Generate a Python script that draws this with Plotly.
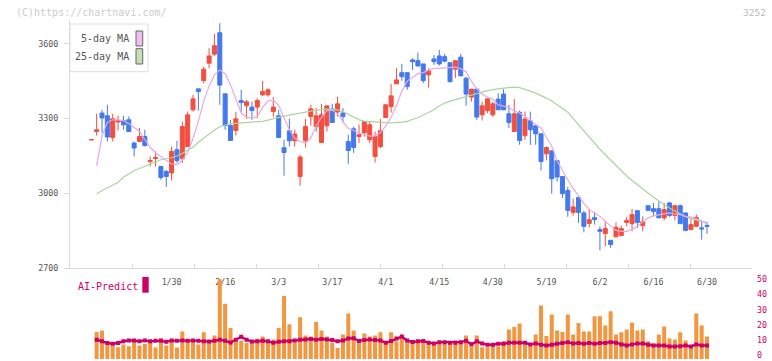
import plotly.graph_objects as go

# ---------------- data ----------------
N = 116
idx = list(range(N))

opens = [3214, 3248, 3322, 3311, 3224, 3286, 3292, 3295, 3202, 3208,
         3228, 3128, 3140, 3108, 3088, 3082, 3175, 3139, 3188, 3335,
         3419, 3452, 3522, 3558, 3644, 3399, 3272, 3252, 3372, 3351,
         3346, 3346, 3395, 3395, 3328, 3311, 3183, 3251, 3211, 3068,
         3211, 3308, 3268, 3204, 3271, 3338, 3326, 3322, 3208, 3259,
         3228, 3244, 3215, 3148, 3188, 3304, 3348, 3439, 3484, 3484,
         3535, 3532, 3519, 3475, 3539, 3551, 3548, 3524, 3498, 3546,
         3462, 3386, 3418, 3315, 3332, 3315, 3378, 3398, 3319, 3248,
         3325, 3231, 3291, 3271, 3239, 3159, 3171, 3131, 3068, 3012,
         2924, 2984, 2922, 2880, 2903, 2855, 2839, 2812, 2826, 2831,
         2884, 2879, 2931, 2871, 2951, 2939, 2939, 2902, 2962, 2912,
         2951, 2922, 2855, 2868, 2862, 2872]
highs = [3216, 3320, 3335, 3355, 3319, 3311, 3311, 3308, 3208, 3262,
         3255, 3148, 3168, 3108, 3095, 3188, 3211, 3288, 3328, 3395,
         3419, 3508, 3582, 3639, 3682, 3399, 3295, 3326, 3415, 3375,
         3368, 3382, 3451, 3422, 3386, 3335, 3215, 3300, 3255, 3155,
         3298, 3355, 3342, 3359, 3351, 3359, 3388, 3342, 3235, 3268,
         3275, 3288, 3288, 3248, 3298, 3359, 3439, 3502, 3519, 3484,
         3542, 3564, 3519, 3502, 3555, 3575, 3560, 3524, 3532, 3559,
         3466, 3418, 3418, 3368, 3379, 3368, 3402, 3418, 3355, 3378,
         3332, 3328, 3328, 3271, 3239, 3188, 3171, 3131, 3068, 3026,
         2979, 2984, 2931, 2938, 2926, 2868, 2888, 2812, 2884, 2871,
         2906, 2938, 2931, 2908, 2951, 2962, 2968, 2962, 2966, 2951,
         2955, 2922, 2906, 2915, 2892, 2886]
lows = [3214, 3232, 3243, 3208, 3208, 3252, 3255, 3248, 3148, 3208,
        3188, 3108, 3108, 3055, 3026, 3052, 3122, 3122, 3188, 3328,
        3332, 3442, 3502, 3551, 3355, 3255, 3212, 3232, 3328, 3298,
        3295, 3302, 3391, 3388, 3306, 3224, 3071, 3188, 3188, 3031,
        3184, 3271, 3248, 3204, 3248, 3284, 3308, 3284, 3119, 3162,
        3202, 3228, 3202, 3124, 3182, 3304, 3324, 3439, 3452, 3415,
        3495, 3508, 3442, 3424, 3515, 3512, 3525, 3444, 3462, 3471,
        3352, 3368, 3295, 3292, 3322, 3306, 3335, 3335, 3262, 3248,
        3195, 3215, 3195, 3195, 3092, 3132, 2999, 3048, 2982, 2906,
        2911, 2882, 2844, 2864, 2875, 2772, 2788, 2782, 2826, 2828,
        2868, 2848, 2862, 2848, 2931, 2908, 2902, 2892, 2906, 2892,
        2879, 2848, 2855, 2868, 2815, 2839]
closes = [3216, 3255, 3302, 3226, 3299, 3292, 3275, 3248, 3182, 3228,
          3192, 3132, 3144, 3064, 3068, 3168, 3132, 3268, 3315, 3379,
          3408, 3498, 3551, 3592, 3434, 3272, 3212, 3299, 3364, 3367,
          3332, 3372, 3408, 3415, 3346, 3224, 3164, 3211, 3238, 3146,
          3268, 3339, 3311, 3315, 3351, 3284, 3359, 3308, 3172, 3184,
          3235, 3288, 3275, 3228, 3251, 3355, 3391, 3455, 3468, 3428,
          3528, 3511, 3452, 3491, 3528, 3519, 3530, 3448, 3532, 3471,
          3398, 3418, 3306, 3351, 3379, 3359, 3335, 3335, 3284, 3319,
          3212, 3298, 3255, 3239, 3128, 3184, 3059, 3066, 2999, 2932,
          2946, 2924, 2868, 2895, 2895, 2848, 2859, 2795, 2864, 2859,
          2892, 2915, 2884, 2886, 2932, 2928, 2902, 2935, 2912, 2951,
          2879, 2852, 2875, 2904, 2858, 2868]

ma5 = [None, 3110, 3230, 3285, 3295, 3295, 3292, 3280, 3265, 3248,
       3215, 3185, 3162, 3148, 3135, 3118, 3115, 3133, 3165, 3220,
       3290, 3370, 3430, 3475, 3495, 3480, 3435, 3375, 3322, 3305,
       3302, 3308, 3345, 3370, 3375, 3352, 3305, 3255, 3222, 3208,
       3202, 3222, 3270, 3305, 3332, 3334, 3318, 3290, 3260, 3252,
       3242, 3236, 3230, 3230, 3245, 3270, 3305, 3352, 3410, 3450,
       3465, 3480, 3484, 3495, 3500, 3502, 3505, 3506, 3506, 3500,
       3488, 3450, 3418, 3398, 3385, 3378, 3355, 3350, 3345, 3330,
       3322, 3308, 3295, 3275, 3262, 3225, 3190, 3130, 3090, 3055,
       3020, 2988, 2960, 2935, 2920, 2908, 2888, 2868, 2852, 2848,
       2848, 2855, 2868, 2885, 2902, 2910, 2915, 2918, 2922, 2918,
       2915, 2908, 2905, 2898, 2888, 2879]

ma25 = [None, 2998, 3012, 3022, 3032, 3045, 3065, 3080, 3092, 3100,
        3110, 3118, 3126, 3135, 3140, 3143, 3150, 3160, 3175, 3185,
        3205, 3222, 3240, 3254, 3267, 3275, 3280, 3281, 3282, 3283,
        3284, 3286, 3289, 3294, 3300, 3306, 3310, 3314, 3317, 3320,
        3326, 3330, 3335, 3337, 3338, 3338, 3335, 3328, 3318, 3305,
        3295, 3290, 3288, 3286, 3284, 3284, 3283, 3284, 3286, 3289,
        3295, 3304, 3314, 3325, 3335, 3350, 3362, 3370, 3376, 3382,
        3391, 3397, 3403, 3408, 3412, 3416, 3420, 3422, 3424, 3426,
        3424, 3418, 3410, 3402, 3393, 3382, 3370, 3356, 3340, 3325,
        3300, 3275, 3248, 3225, 3200, 3177, 3155, 3133, 3110, 3090,
        3070, 3052, 3035, 3018, 3000, 2985, 2970, 2955, 2942, 2930,
        2918, 2907, 2899, 2892, 2887, 2884]

volume = [None, 16.8, 17.8, 9.5, 8.4, 7.4, 9.0, 8.0, 11.6, 8.4,
          9.3, 11.0, 7.2, 13.0, 8.4, 11.0, 7.2, 17.2, 11.0, 12.2,
          9.0, 16.6, 11.0, 14.7, 49.7, 34.5, 19.3, 11.0, 11.6, 10.0,
          10.5, 12.6, 14.0, 10.5, 12.2, 19.3, 39.3, 21.6, 10.5, 26.1,
          14.7, 14.0, 23.0, 17.8, 14.0, 10.1, 6.8, 15.3, 28.4, 17.8,
          11.0, 15.9, 14.0, 14.7, 16.6, 9.5, 16.6, 11.0, 14.0, 11.0,
          10.5, 11.6, 10.1, 11.0, 8.9, 10.1, 10.1, 10.5, 11.6, 11.0,
          14.7, 8.0, 14.7, 7.4, 7.4, 8.4, 8.0, 11.0, 18.4, 19.9,
          22.2, 8.9, 8.0, 15.3, 33.4, 14.3, 27.8, 17.8, 16.8, 27.8,
          15.3, 22.4, 17.2, 17.2, 26.6, 26.6, 20.9, 29.7, 15.3, 16.6,
          18.4, 22.8, 17.8, 18.4, 11.0, 9.7, 15.3, 20.3, 12.8, 12.2,
          16.6, 11.6, 8.0, 28.4, 20.9, 14.0]

ai_predict = [None, 12.0, 11.0, 10.0, 9.5, 10.0, 11.0, 11.6, 11.5, 11.0,
              11.6, 11.0, 11.3, 11.3, 10.7, 11.6, 11.3, 11.6, 11.3, 11.6,
              11.3, 11.0, 10.9, 11.3, 12.0, 11.3, 10.3, 12.0, 13.8, 12.0,
              10.9, 11.0, 11.4, 11.0, 10.1, 10.8, 11.1, 11.1, 11.5, 12.0,
              12.1, 12.5, 12.0, 12.5, 12.2, 11.8, 11.1, 11.5, 12.8, 13.0,
              11.2, 11.9, 12.1, 11.9, 11.5, 10.2, 11.2, 12.8, 14.0, 11.5,
              10.6, 11.0, 11.2, 10.2, 9.6, 10.5, 10.5, 10.1, 10.1, 10.5,
              11.4, 9.2, 11.0, 9.6, 8.9, 8.9, 9.5, 9.5, 10.1, 10.1,
              10.1, 10.1, 9.1, 9.7, 8.9, 8.4, 8.9, 9.5, 9.9, 10.5,
              9.7, 9.9, 9.5, 9.9, 9.5, 9.9, 9.9, 10.5, 10.1, 9.1,
              8.4, 9.1, 9.7, 9.7, 8.9, 8.4, 8.4, 8.4, 7.8, 7.8,
              8.0, 8.4, 7.8, 9.1, 8.4, 8.4]

date_tick_idx = [15, 25, 35, 45, 55, 65, 75, 85, 95, 105, 115]
date_tick_text = ["1/30", "2/16", "3/3", "3/17", "4/1", "4/15",
                  "4/30", "5/19", "6/2", "6/16", "6/30"]
price_ticks = [2700, 3000, 3300, 3600]
sub_ticks = [0, 10, 20, 30, 40, 50]

# ---------------- style ----------------
W, H = 772, 361
RED = "#f24f3f"
BLUE = "#4479ee"
ORANGE = "#f2963f"
CRIMSON = "#cc0066"
PINK = "#e6a8e6"
GREEN = "#a9d69d"
AXIS = "#dadada"
MONO = "DejaVu Sans Mono"


def px(x):
    return x / W


def py(y):
    return (H - y) / H


X0, X1 = 70, 752
SP = 5.354
FIRST = 91.3
xr = [(X0 - FIRST) / SP, (X1 - FIRST) / SP]
Y_TOP, Y_BOT = 20, 268.3
PPX = 4.007
yr = [2700, 2700 + (Y_BOT - Y_TOP) * PPX]

# lower panel: data axis 0 at y=359, 50 at y=278.8; label axis nudged so "0" fits the page
SUB_BOT, SUB_TOP = 359, 278.8
LAB0, LAB50 = 355.5, 279.0
k = (LAB0 - LAB50) / 50.0            # px per unit on the label axis
a = -(SUB_BOT - LAB0) / k
b = a + (SUB_BOT - SUB_TOP) / k

fig = go.Figure()
fig.add_trace(go.Scatter(x=idx, y=ma25, mode="lines", line=dict(color=GREEN, width=1.2),
                         xaxis="x", yaxis="y", hoverinfo="skip"))
fig.add_trace(go.Scatter(x=idx, y=ma5, mode="lines", line=dict(color=PINK, width=1.2),
                         xaxis="x", yaxis="y", hoverinfo="skip"))
fig.add_trace(go.Candlestick(
    x=idx, open=opens, high=highs, low=lows, close=closes,
    increasing=dict(line=dict(color=RED, width=1), fillcolor=RED),
    decreasing=dict(line=dict(color=BLUE, width=1), fillcolor=BLUE),
    whiskerwidth=0, xaxis="x", yaxis="y"))
fig.add_trace(go.Bar(x=idx, y=volume, width=0.75, marker=dict(color=ORANGE, line=dict(width=0)),
                     xaxis="x2", yaxis="y2"))
fig.add_trace(go.Scatter(x=idx, y=ai_predict, mode="lines+markers",
                         line=dict(color=CRIMSON, width=2.4),
                         marker=dict(symbol="square", size=4, color=CRIMSON),
                         xaxis="x2", yaxis="y2"))
# carriers for the tick-mark axis and the right-hand label axis
fig.add_trace(go.Scatter(x=[0, 11], y=[None, None], mode="lines", xaxis="x3", yaxis="y",
                         hoverinfo="skip"))
fig.add_trace(go.Scatter(x=[0, 1], y=[None, None], mode="lines", xaxis="x2", yaxis="y3",
                         hoverinfo="skip"))

fig.update_layout(
    template="none",
    width=W, height=H, autosize=False,
    margin=dict(l=0, r=0, t=0, b=0, pad=0, autoexpand=False),
    paper_bgcolor="white", plot_bgcolor="white", showlegend=False,
    boxgap=0.25, boxgroupgap=0,
    xaxis=dict(domain=[px(X0), px(X1)], range=xr, anchor="y", automargin=False,
               showline=True, linecolor=AXIS, linewidth=1, mirror=False,
               ticks="", tickvals=date_tick_idx, ticktext=date_tick_text,
               tickfont=dict(family=MONO, size=8.3, color="#555555"),
               ticklabelstandoff=6, ticklabeloverflow="allow",
               showgrid=False, zeroline=False, rangeslider=dict(visible=False)),
    xaxis3=dict(domain=[px(X0), px(X1)], range=[0, 11], anchor="y", overlaying="x",
                automargin=False,
                side="bottom", ticks="inside", ticklen=4, tickwidth=1, tickcolor=AXIS,
                tickvals=list(range(12)), showticklabels=False, showline=False,
                showgrid=False, zeroline=False),
    yaxis=dict(domain=[py(Y_BOT), py(Y_TOP)], range=yr, anchor="x", automargin=False,
               showline=True, linecolor=AXIS, linewidth=1,
               ticks="outside", ticklen=5, tickcolor=AXIS, tickvals=price_ticks,
               tickfont=dict(family=MONO, size=8.3, color="#555555"),
               ticklabelstandoff=4, ticklabeloverflow="allow",
               showgrid=False, zeroline=False),
    xaxis2=dict(domain=[px(X0), px(X1)], range=xr, anchor="y2", visible=False,
                automargin=False),
    yaxis2=dict(domain=[py(SUB_BOT), py(SUB_TOP)], range=[0, 50], anchor="x2", visible=False,
                automargin=False),
    yaxis3=dict(range=[a, b], anchor="x2", side="right",
                overlaying="y2", automargin=False,
                ticks="", tickvals=sub_ticks, showline=False, showgrid=False, zeroline=False,
                tickfont=dict(family=MONO, size=8.3, color=CRIMSON),
                ticklabelstandoff=4, ticklabeloverflow="allow"),
)

shapes = [
    dict(type="rect", xref="paper", yref="paper", x0=px(70), x1=px(148), y0=py(71.7), y1=py(24),
         line=dict(color="#dddddd", width=1), fillcolor="white", layer="above"),
    dict(type="rect", xref="paper", yref="paper", x0=px(136), x1=px(142.7), y0=py(46), y1=py(31),
         line=dict(color="#666666", width=1), fillcolor="#f0bff0", layer="above"),
    dict(type="rect", xref="paper", yref="paper", x0=px(136), x1=px(142.7), y0=py(64), y1=py(48.7),
         line=dict(color="#666666", width=1), fillcolor="#c2e2b4", layer="above"),
    dict(type="rect", xref="paper", yref="paper", x0=px(142.3), x1=px(148.7), y0=py(292.7), y1=py(277),
         line=dict(width=0), fillcolor=CRIMSON, layer="above"),
]
annotations = [
    dict(text="(C)https://chartnavi.com/", x=px(14), y=py(12.3), xref="paper", yref="paper",
         xanchor="left", yanchor="middle", showarrow=False,
         font=dict(family=MONO, size=10, color="#cccccc")),
    dict(text="3252", x=px(768), y=py(12.3), xref="paper", yref="paper",
         xanchor="right", yanchor="middle", showarrow=False,
         font=dict(family=MONO, size=9.5, color="#bbbbbb")),
    dict(text="5-day MA", x=px(130.5), y=py(39), xref="paper", yref="paper",
         xanchor="right", yanchor="middle", showarrow=False,
         font=dict(family=MONO, size=10, color="#555555")),
    dict(text="25-day MA", x=px(130.5), y=py(56.5), xref="paper", yref="paper",
         xanchor="right", yanchor="middle", showarrow=False,
         font=dict(family=MONO, size=10, color="#555555")),
    dict(text="AI-Predict", x=px(75.5), y=py(286.7), xref="paper", yref="paper",
         xanchor="left", yanchor="middle", showarrow=False,
         font=dict(family=MONO, size=10, color=CRIMSON)),
]
fig.update_layout(shapes=shapes, annotations=annotations)

fig.write_html("out.html", config={"displayModeBar": False})
